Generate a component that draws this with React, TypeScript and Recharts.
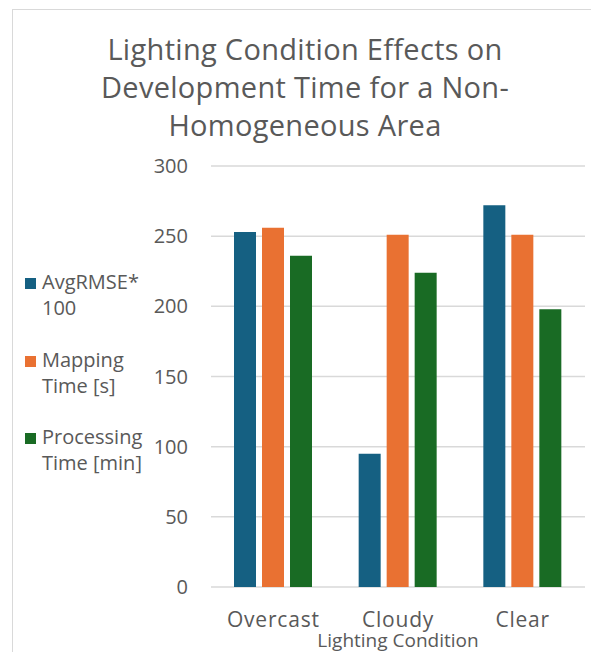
import { Bar, BarChart, CartesianGrid, Legend, XAxis, YAxis } from "recharts";

const FONT = "'Open Sans', sans-serif";
const TEXT = "#595959";
const GRID = "#d9d9d9";

// values
const conditions = ["Overcast", "Cloudy", "Clear"];
const avgRmse100 = [253, 95, 272];
const mappingTime = [256, 251, 251];
const processingTime = [236, 224, 198];
const yTicks = [0, 50, 100, 150, 200, 250, 300];
const titleLines = ["Lighting Condition Effects on", "Development Time for a Non-", "Homogeneous Area"];

const series = [
  { key: "avgRmse", name: "AvgRMSE* 100", lines: ["AvgRMSE*", "100"], color: "#156082" },
  { key: "mapping", name: "Mapping Time [s]", lines: ["Mapping", "Time [s]"], color: "#E97132" },
  { key: "processing", name: "Processing Time [min]", lines: ["Processing", "Time [min]"], color: "#196B24" },
];

const data = conditions.map((c, i) => ({
  condition: c,
  avgRmse: avgRmse100[i],
  mapping: mappingTime[i],
  processing: processingTime[i],
}));

function LegendBox() {
  return (
    <div style={{ width: 140, paddingLeft: 25, boxSizing: "border-box", fontFamily: FONT, fontSize: 20, color: TEXT }}>
      {series.map((s) => (
        <div key={s.key} style={{ position: "relative", height: 77.5, paddingLeft: 17, lineHeight: "26px" }}>
          <span style={{ position: "absolute", left: 0, top: 9, width: 11, height: 11, background: s.color }} />
          {s.lines.map((l) => (
            <div key={l} style={{ whiteSpace: "nowrap" }}>{l}</div>
          ))}
        </div>
      ))}
    </div>
  );
}

export default function App() {
  return (
    <div style={{ position: "absolute", left: 0, top: 0, width: 591, height: 652, background: "#fff", overflow: "hidden" }}>
      <div
        style={{
          position: "absolute",
          left: 12,
          top: 9,
          width: 600,
          height: 700,
          borderLeft: `1.5px solid ${GRID}`,
          borderTop: `1.5px solid ${GRID}`,
        }}
      />
      <div
        style={{
          position: "absolute",
          left: 55,
          top: 30,
          width: 500,
          textAlign: "center",
          fontFamily: FONT,
          fontSize: 29,
          letterSpacing: 0.3,
          lineHeight: "38px",
          color: TEXT,
        }}
      >
        {titleLines.map((l) => (
          <div key={l} style={{ whiteSpace: "nowrap" }}>{l}</div>
        ))}
      </div>
      <BarChart
        width={591}
        height={652}
        data={data}
        margin={{ top: 166, right: 6, bottom: 35, left: 0 }}
        barCategoryGap={23}
        barGap={6}
      >
        <CartesianGrid vertical={false} stroke={GRID} strokeWidth={1.5} />
        <XAxis
          dataKey="condition"
          axisLine={false}
          tickLine={false}
          tickMargin={19}
          height={30}
          tick={{ fill: TEXT, fontSize: 21, fontFamily: FONT, letterSpacing: 0.8 }}
          label={{ value: "Lighting Condition", position: "bottom", offset: 17, fill: TEXT, fontSize: 19, fontFamily: FONT }}
        />
        <YAxis
          domain={[0, 300]}
          ticks={yTicks}
          width={71}
          axisLine={false}
          tickLine={false}
          tickMargin={17}
          tick={{ fill: TEXT, fontSize: 20, fontFamily: FONT }}
        />
        <Legend
          layout="vertical"
          align="left"
          verticalAlign="middle"
          wrapperStyle={{ left: 0, top: 269 }}
          content={() => <LegendBox />}
        />
        {series.map((s) => (
          <Bar key={s.key} dataKey={s.key} name={s.name} fill={s.color} isAnimationActive={false} />
        ))}
      </BarChart>
    </div>
  );
}
